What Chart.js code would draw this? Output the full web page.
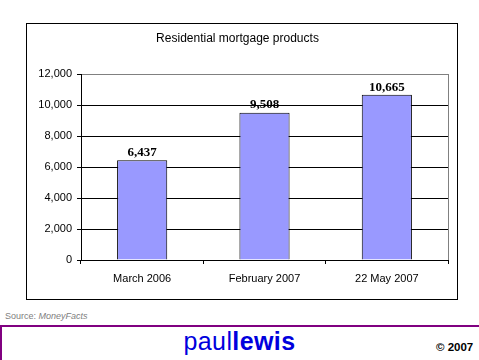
<!DOCTYPE html>
<html>
<head>
<meta charset="utf-8">
<script src="https://cdn.jsdelivr.net/npm/chart.js@4/dist/chart.umd.min.js"></script>
<style>
  body { margin: 0; width: 479px; height: 360px; overflow: hidden; background: #fff; position: relative; font-family: "Liberation Sans", Arial, sans-serif; }
  #box { position: absolute; left: 26px; top: 23px; width: 430px; height: 275px; border: 1px solid #000; }
  #source { position: absolute; left: 5px; top: 311px; font-size: 9px; color: #808080; }
  #rule { position: absolute; left: 0; top: 325px; width: 479px; height: 2px; background: #800080; }
  #rule2 { position: absolute; left: 0; top: 325px; width: 2px; height: 35px; background: #800080; }
  #brand { position: absolute; left: 0; width: 479px; top: 327px; text-align: center; font-size: 25px; color: #0000dd; letter-spacing: 0.4px; }
  #copy { position: absolute; left: 436px; top: 341px; font-size: 11.5px; font-weight: bold; color: #000; }
</style>
</head>
<body>
<div id="box"><canvas id="mortgageChart" width="430" height="275"></canvas></div>
<div id="source">Source: <i>MoneyFacts</i></div>
<div id="rule"></div>
<div id="rule2"></div>
<div id="brand">paul<b>lewis</b></div>
<div id="copy">© 2007</div>
<script>
// data
const categories = ["March 2006", "February 2007", "22 May 2007"];
const products = [6437, 9508, 10665];
const yTicks = [0, 2000, 4000, 6000, 8000, 10000, 12000];

const fmt = v => v.toLocaleString("en-GB");

// value labels on top of the bars
const barLabels = {
    id: "barLabels",
    afterDatasetsDraw(chart) {
        const ctx = chart.ctx;
        const meta = chart.getDatasetMeta(0);
        ctx.save();
        ctx.font = "bold 13px 'Liberation Serif', 'Times New Roman', serif";
        ctx.fillStyle = "#000";
        ctx.textAlign = "center";
        ctx.textBaseline = "bottom";
        meta.data.forEach((bar, i) => {
            ctx.fillText(fmt(products[i]), bar.x, bar.y - 1);
        });
        ctx.restore();
    }
};

// grey right edge of the plot area
const plotFrame = {
    id: "plotFrame",
    beforeDatasetsDraw(chart) {
        const a = chart.chartArea;
        const ctx = chart.ctx;
        ctx.save();
        ctx.strokeStyle = "#808080";
        ctx.lineWidth = 1;
        ctx.beginPath();
        ctx.moveTo(Math.round(a.right) + 0.5, a.top);
        ctx.lineTo(Math.round(a.right) + 0.5, a.bottom);
        ctx.stroke();
        ctx.restore();
    }
};

Chart.defaults.font.family = "'Liberation Sans', Arial, sans-serif";
Chart.defaults.color = "#000";

new Chart(document.getElementById("mortgageChart"), {
    type: "bar",
    data: {
        labels: categories,
        datasets: [{
            data: products,
            backgroundColor: "#9999ff",
            borderColor: "#000",
            borderWidth: 1,
            categoryPercentage: 1,
            barPercentage: 0.41
        }]
    },
    options: {
        responsive: false,
        animation: false,
        devicePixelRatio: 1,
        layout: { padding: { left: 0, right: 9, top: 0, bottom: 0 } },
        plugins: {
            legend: { display: false },
            tooltip: { enabled: false },
            title: {
                display: true,
                text: "Residential mortgage products",
                color: "#000",
                font: { size: 12, weight: "normal" },
                padding: { top: 7, bottom: 28.6 }
            }
        },
        scales: {
            x: {
                grid: { display: true, drawOnChartArea: false, drawTicks: true, tickLength: 4, color: "#000" },
                border: { display: true, color: "#000" },
                ticks: { font: { size: 11 }, color: "#000", padding: 8, maxRotation: 0 },
                afterFit(scale) { scale.height = 39; }
            },
            y: {
                min: 0,
                max: 12000,
                afterBuildTicks(scale) { scale.ticks = yTicks.map(v => ({ value: v })); },
                grid: {
                    color: ctx => (ctx.tick && ctx.tick.value === 12000 ? "#808080" : "#000"),
                    tickColor: "#000",
                    tickLength: 4
                },
                border: { display: true, color: "#000" },
                ticks: { font: { size: 11 }, color: "#000", padding: 5, callback: v => fmt(v) },
                afterFit(scale) { scale.width = 54; }
            }
        }
    },
    plugins: [barLabels, plotFrame]
});
</script>
</body>
</html>
